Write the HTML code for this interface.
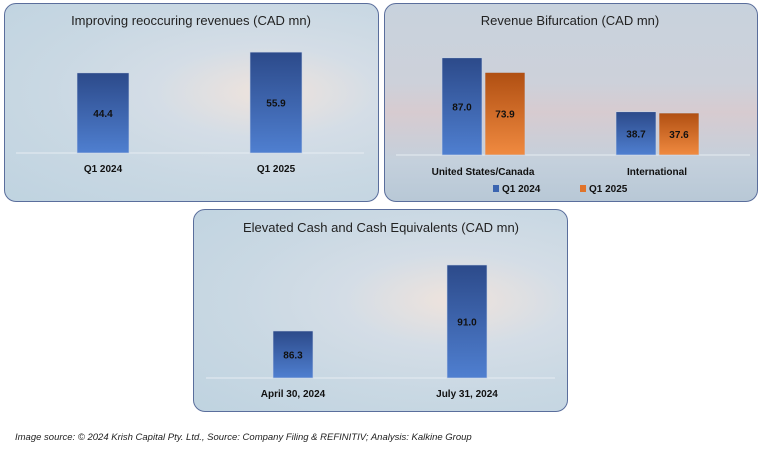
<!DOCTYPE html>
<html><head><meta charset="utf-8"><style>
body{margin:0;width:761px;height:449px;background:#fff;font-family:"Liberation Sans",sans-serif;position:relative;overflow:hidden}
.panel{position:absolute;border:1.5px solid #5a6e9c;border-radius:12px;box-sizing:border-box;overflow:hidden}
.p1,.p3{background:radial-gradient(ellipse at 70% 45%,#efe3dc 0%,#d4dde6 30%,#c9d8e3 60%,#bfd3e0 100%)}
.p2{background:linear-gradient(180deg,#c8d2dd 0%,#cdd1da 40%,#d7cbd0 55%,#c4d0dc 80%,#b8c8d6 100%)}
svg{position:absolute;left:0;top:0}
.foot{position:absolute;left:15px;top:432px;font-size:9.5px;font-style:italic;color:#222}
</style></head><body>
<div class="panel p1" style="left:4px;top:3px;width:375px;height:199px"></div>
<div class="panel p2" style="left:384px;top:3px;width:374px;height:199px"></div>
<div class="panel p3" style="left:193px;top:209px;width:375px;height:203px"></div>
<svg width="761" height="449" id="chart">
<defs>
<linearGradient id="gb" x1="0" y1="0" x2="0" y2="1"><stop offset="0" stop-color="#2c4a8a"/><stop offset="1" stop-color="#4f7fd0"/></linearGradient>
<linearGradient id="go" x1="0" y1="0" x2="0" y2="1"><stop offset="0" stop-color="#b04f12"/><stop offset="1" stop-color="#f08a40"/></linearGradient>
</defs>
</svg>
<div class="foot">Image source: © 2024 Krish Capital Pty. Ltd., Source: Company Filing &amp; REFINITIV; Analysis: Kalkine Group</div>
<script>
const c1Cats=["Q1 2024","Q1 2025"];
const c1Vals=[44.4,55.9];
const c2Cats=["United States/Canada","International"];
const c2Q124=[87.0,38.7];
const c2Q125=[73.9,37.6];
const c3Cats=["April 30, 2024","July 31, 2024"];
const c3Vals=[86.3,91.0];
const svg=document.getElementById('chart');
const NS="http://www.w3.org/2000/svg";
function mk(t,a,txt){const e=document.createElementNS(NS,t);for(const k in a)e.setAttribute(k,a[k]);if(txt!=null)e.textContent=txt;svg.appendChild(e);return e;}
function title(x,y,s){const e=mk('text',{x:x,y:y,'text-anchor':'middle','font-size':13,fill:'#222'},s);

}
function bar(x,w,base,h,fill,val,name){
const r=mk('rect',{x:x,y:base-h,width:w,height:h,fill:fill,stroke:'#c8d4e6','stroke-width':0.6});


const t=mk('text',{x:x+w/2,y:base-h/2+4,'text-anchor':'middle','font-size':10,'font-weight':'bold',fill:'#111'},val.toFixed(1));

}
function cat(x,y,s){const t=mk('text',{x:x,y:y,'text-anchor':'middle','font-size':10,'font-weight':'bold',fill:'#111'},s);

}
function axis(x1,x2,y){const l=mk('line',{x1:x1,x2:x2,y1:y,y2:y,stroke:'#e6ecf2','stroke-width':1});

}
title(191,25,"Improving reoccuring revenues (CAD mn)");
const b1=153,s1=1.805,x1=[77,250];
axis(16,364,b1);
c1Vals.forEach((v,i)=>{bar(x1[i],52,b1,v*s1,'url(#gb)',v,'bar-'+i);cat(x1[i]+26,172,c1Cats[i]);});
title(570,25,"Revenue Bifurcation (CAD mn)");
const b2=155,s2=1.117,x2=[442,616];
axis(396,750,b2);
c2Cats.forEach((cn,i)=>{bar(x2[i],40,b2,c2Q124[i]*s2,'url(#gb)',c2Q124[i],'bar-q1-2024-'+i);
bar(x2[i]+43,40,b2,c2Q125[i]*s2,'url(#go)',c2Q125[i],'bar-q1-2025-'+i);cat(x2[i]+41,175,cn);});
const lg1=mk('rect',{x:493,y:185,width:6,height:7,fill:'#3a64b0'});


const lt1=mk('text',{x:502,y:192,'font-size':10,'font-weight':'bold',fill:'#111'},"Q1 2024");


const lg2=mk('rect',{x:580,y:185,width:6,height:7,fill:'#e0732a'});


const lt2=mk('text',{x:589,y:192,'font-size':10,'font-weight':'bold',fill:'#111'},"Q1 2025");


title(381,232,"Elevated Cash and Cash Equivalents (CAD mn)");
const b3=378,min3=82.95,s3=14.04,x3=[273,447];
axis(206,555,b3);
c3Vals.forEach((v,i)=>{bar(x3[i],40,b3,(v-min3)*s3,'url(#gb)',v,'bar-cash-'+i);cat(x3[i]+20,397,c3Cats[i]);});
</script>
</body></html>
